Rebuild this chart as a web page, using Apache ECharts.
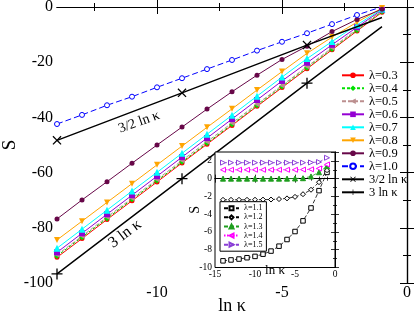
<!DOCTYPE html>
<html>
<head>
<meta charset="utf-8">
<script src="https://cdn.jsdelivr.net/npm/echarts@6/dist/echarts.min.js"></script>
<style>
html,body{margin:0;padding:0;background:#fff;}
#c{width:415px;height:314px;}
</style>
</head>
<body>
<div id="c"></div>
<script>
// ---------- data ----------
const lnKappa = [-14,-13,-12,-11,-10,-9,-8,-7,-6,-5,-4,-3,-2,-1];
const S_l03 = [-90.7,-83.9,-77.0,-70.2,-63.4,-56.5,-49.7,-42.9,-36.0,-29.2,-22.4,-15.5,-8.7,-1.9];
const S_l04 = [-90.2,-83.4,-76.6,-69.7,-62.9,-56.1,-49.3,-42.5,-35.6,-28.8,-22.0,-15.2,-8.4,-1.6];
const S_l05 = [-89.8,-83.0,-76.1,-69.3,-62.5,-55.6,-48.8,-42.0,-35.2,-28.4,-21.6,-14.8,-8.0,-1.3];
const S_l06 = [-88.9,-82.0,-75.1,-68.2,-61.3,-54.4,-47.5,-40.6,-33.7,-26.8,-20.2,-13.7,-7.3,-1.0];
const S_l07 = [-87.4,-80.5,-73.6,-66.7,-59.9,-53.0,-46.1,-39.2,-32.3,-25.4,-18.7,-12.5,-6.5,-0.7];
const S_l08 = [-84.4,-77.6,-70.8,-64.0,-57.2,-50.4,-43.6,-36.9,-30.1,-23.4,-16.8,-10.9,-5.5,-0.4];
const S_l09 = [-76.8,-69.9,-63.3,-56.6,-50.0,-43.5,-37.0,-30.7,-24.7,-19.0,-14.2,-8.9,-4.5,-0.8];
const S_l10 = [-42.4,-39.1,-35.6,-32.5,-29.1,-25.8,-22.5,-19.2,-15.8,-12.6,-9.5,-6.2,-2.9,0.1];
const refX = [-14,-9,-4,-1];
const S_ref32 = [-48.3,-31.1,-13.8,-3.8];
const S_ref3 = [-96.7,-62.2,-27.6,-7.1];

const insetLnKappa = [-14,-13,-12,-11,-10,-9,-8,-7,-6,-5,-4,-3,-2,-1];
const S_l11 = [-9.25,-9.15,-9.05,-8.9,-8.75,-8.5,-8.15,-7.6,-6.85,-5.95,-4.75,-3.3,-1.35,0.7];
const S_l12 = [-2.38,-2.38,-2.38,-2.38,-2.37,-2.36,-2.35,-2.3,-2.22,-2.05,-1.75,-1.25,-0.4,0.95];
const S_l13 = [0,0,0,0,0,0,0,0,0,0.02,0.05,0.25,0.72,1.4];
const S_l14 = [1.0,1.0,1.0,1.0,1.0,1.0,1.0,1.0,1.0,1.0,1.02,1.05,1.15,1.6];
const S_l15 = [1.8,1.8,1.8,1.8,1.8,1.8,1.8,1.8,1.8,1.8,1.8,1.82,1.87,2.35];

const mainXMajor = [-10,-5,0];
const mainXMinor = [-12.5,-7.5,-2.5];
const annotations = [
  {text:'3/2 ln κ', x:-10.72, y:-41.7, angle:20, size:14},
  {text:'3 ln κ', x:-11.28, y:-82.2, angle:37, size:16}
];

// ---------- chart ----------
const FONT = "'Liberation Serif','Times New Roman',serif";
const chart = echarts.init(document.getElementById('c'), null, {renderer:'canvas', width:415, height:314});

const TRI_DOWN = 'path://M0,0L10,0L5,10Z';
const TRI_LEFT = 'path://M0,5L10,0L10,10Z';
const TRI_RIGHT = 'path://M10,5L0,0L0,10Z';
const XMARK = 'path://M0,1L1,0L5,4L9,0L10,1L6,5L10,9L9,10L5,6L1,10L0,9L4,5Z';
const PLUS = 'path://M4.4,0H5.6V4.4H10V5.6H5.6V10H4.4V5.6H0V4.4H4.4Z';

function pairs(xs, ys){ return xs.map((x,i)=>[x, ys[i]]); }

function mainSeries(name, ys, color, symbol, size, dash, fill){
  return {
    name, type:'line', xAxisIndex:0, yAxisIndex:0, z:2,
    data: pairs(lnKappa, ys),
    symbol, symbolSize:size, showSymbol:true,
    lineStyle:{color, width:1, type: dash || 'solid'},
    itemStyle:{color: fill || color, borderColor: color, borderWidth: fill ? 1 : 0},
    emphasis:{disabled:true}, silent:true
  };
}
function insetSeries(name, ys, color, symbol, size, dash, fill){
  return {
    name, type:'line', xAxisIndex:4, yAxisIndex:2, z:7,
    data: pairs(insetLnKappa, ys),
    symbol, symbolSize:size, showSymbol:true,
    lineStyle:{color, width:0.8, type: dash || 'solid'},
    itemStyle:{color: fill || color, borderColor: color, borderWidth: 1},
    emphasis:{disabled:true}, silent:true
  };
}
function refSeries(name, ys, symbol, size){
  return {
    name, type:'line', xAxisIndex:0, yAxisIndex:0, z:3,
    data: pairs(refX, ys).map((p,i)=> i===refX.length-1 ? {value:p, symbol:'none'} : {value:p}),
    symbol, symbolSize:size, showSymbol:true,
    lineStyle:{color:'#000', width:1.4},
    itemStyle:{color:'#000'},
    emphasis:{disabled:true}, silent:true
  };
}

const axisLineStyle = {lineStyle:{color:'#000', width:1.2}};
const labelBase = {color:'#000', fontFamily:FONT};

const series = [
  mainSeries('λ=0.3', S_l03, '#ff0000', 'circle', 5),
  mainSeries('λ=0.4', S_l04, '#00e000', 'diamond', 6, [3,2]),
  mainSeries('λ=0.5', S_l05, '#bc8f8f', TRI_LEFT, 6, [4,2]),
  mainSeries('λ=0.6', S_l06, '#9400d3', 'rect', 6),
  mainSeries('λ=0.7', S_l07, '#00ffff', 'triangle', 7),
  mainSeries('λ=0.8', S_l08, '#ffa500', TRI_DOWN, 6),
  mainSeries('λ=0.9', S_l09, '#670748', 'circle', 5),
  mainSeries('λ=1.0', S_l10, '#0000ff', 'circle', 5, [6,3], '#ffffff'),
  refSeries('3/2 ln κ', S_ref32, XMARK, 9),
  refSeries('3 ln κ', S_ref3, PLUS, 11),
  insetSeries('λ=1.1', S_l11, '#000000', 'rect', 4.5, [4,2], '#ffffff'),
  insetSeries('λ=1.2', S_l12, '#000000', 'diamond', 5, [4,2], '#ffffff'),
  insetSeries('λ=1.3', S_l13, '#1e9e1e', 'triangle', 5, [4,2]),
  insetSeries('λ=1.4', S_l14, '#ff00ff', TRI_LEFT, 5, [1.5,1.5], '#ffffff'),
  insetSeries('λ=1.5', S_l15, '#8a3fd6', TRI_RIGHT, 5, [4,2], '#ffffff')
];

const option = {
  animation:false,
  backgroundColor:'#fff',
  grid:[
    {left:57, top:7, width:350, height:276, z:0, outerBoundsMode:'none', containLabel:false},
    {left:215, top:152, width:120, height:115.5, show:true, backgroundColor:'#fff',
     borderWidth:1, borderColor:'#000', z:5, outerBoundsMode:'none', containLabel:false}
  ],
  legend:[
    {
      data:['λ=0.3','λ=0.4','λ=0.5','λ=0.6','λ=0.7','λ=0.8','λ=0.9','λ=1.0','3/2 ln κ','3 ln κ'],
      orient:'vertical', left:341, top:68.8, itemWidth:22, itemHeight:7, itemGap:0, padding:0,
      selectedMode:false,
      textStyle:{fontFamily:FONT, fontSize:12.5, color:'#000', lineHeight:12.4},
      z:10
    },
    {
      data:['λ=1.1','λ=1.2','λ=1.3','λ=1.4','λ=1.5'],
      orient:'vertical', left:220, top:201.7, itemWidth:15, itemHeight:5, itemGap:0,
      padding:[2,4,2,3], borderColor:'#000', borderWidth:1, backgroundColor:'#fff',
      selectedMode:false,
      textStyle:{fontFamily:FONT, fontSize:8, color:'#000', lineHeight:9.1},
      z:10
    }
  ],
  xAxis:[
    {gridIndex:0, type:'value', min:-14, max:0, position:'bottom',
     axisLine:axisLineStyle, splitLine:{show:false},
     axisTick:{inside:true, length:7, lineStyle:{color:'#000', width:1}, customValues:mainXMajor},
     axisLabel:Object.assign({fontSize:16, margin:2, customValues:mainXMajor}, labelBase),
     name:'ln κ', nameLocation:'middle', nameGap:14, nameMoveOverlap:false,
     nameTextStyle:{fontFamily:FONT, fontSize:18, color:'#000'}},
    {gridIndex:0, type:'value', min:-14, max:0, position:'bottom',
     axisLine:{show:false}, splitLine:{show:false},
     axisTick:{inside:true, length:4, lineStyle:{color:'#000', width:1}, customValues:mainXMinor},
     axisLabel:{show:false}},
    {gridIndex:0, type:'value', min:-14, max:0, position:'top',
     axisLine:axisLineStyle, splitLine:{show:false},
     axisTick:{inside:true, length:7, lineStyle:{color:'#000', width:1}, customValues:mainXMajor},
     axisLabel:{show:false}},
    {gridIndex:0, type:'value', min:-14, max:0, position:'top',
     axisLine:{show:false}, splitLine:{show:false},
     axisTick:{inside:true, length:4, lineStyle:{color:'#000', width:1}, customValues:mainXMinor},
     axisLabel:{show:false}},
    {gridIndex:1, type:'value', min:-15, max:0, interval:5, position:'bottom', z:6,
     axisLine:{lineStyle:{color:'#000', width:1}}, splitLine:{show:false},
     axisTick:{inside:true, length:4, lineStyle:{color:'#000', width:0.8}},
     minorTick:{show:true, splitNumber:5, length:2, lineStyle:{color:'#000', width:0.8}},
     axisLabel:Object.assign({fontSize:9.5, margin:2}, labelBase),
     name:'ln κ', nameLocation:'middle', nameGap:-3, nameMoveOverlap:false,
     nameTextStyle:{fontFamily:FONT, fontSize:13, color:'#000'}},
    {gridIndex:1, type:'value', min:-15, max:0, interval:5, position:'top', z:6,
     axisLine:{lineStyle:{color:'#000', width:1}}, splitLine:{show:false},
     axisTick:{inside:true, length:4, lineStyle:{color:'#000', width:0.8}},
     minorTick:{show:true, splitNumber:5, length:2, lineStyle:{color:'#000', width:0.8}},
     axisLabel:{show:false}}
  ],
  yAxis:[
    {gridIndex:0, type:'value', min:-100, max:0, interval:20, position:'left',
     axisLine:axisLineStyle, splitLine:{show:false},
     axisTick:{inside:true, length:7, lineStyle:{color:'#000', width:1}},
     minorTick:{show:true, splitNumber:2, length:4, lineStyle:{color:'#000', width:1}},
     axisLabel:Object.assign({fontSize:16, margin:4}, labelBase),
     name:'S', nameLocation:'middle', nameGap:37, nameRotate:90, nameMoveOverlap:false,
     nameTextStyle:{fontFamily:FONT, fontSize:19, color:'#000'}},
    {gridIndex:0, type:'value', min:-100, max:0, interval:20, position:'right',
     axisLine:axisLineStyle, splitLine:{show:false},
     axisTick:{inside:true, length:7, lineStyle:{color:'#000', width:1}},
     minorTick:{show:true, splitNumber:2, length:4, lineStyle:{color:'#000', width:1}},
     axisLabel:{show:false}},
    {gridIndex:1, type:'value', min:-10, max:3, interval:2, position:'left', z:6,
     axisLine:{lineStyle:{color:'#000', width:1}}, splitLine:{show:false},
     axisTick:{inside:true, length:4, lineStyle:{color:'#000', width:0.8}},
     minorTick:{show:true, splitNumber:2, length:2, lineStyle:{color:'#000', width:0.8}},
     axisLabel:Object.assign({fontSize:9.5, margin:3, showMaxLabel:false,
       formatter:v => (v > 2 ? '' : String(v))}, labelBase),
     name:'S', nameLocation:'middle', nameGap:13, nameRotate:90, nameMoveOverlap:false,
     nameTextStyle:{fontFamily:FONT, fontSize:14, color:'#000'}},
    {gridIndex:1, type:'value', min:-10, max:3, interval:2, position:'right', z:6,
     axisLine:{lineStyle:{color:'#000', width:1}}, splitLine:{show:false},
     axisTick:{inside:true, length:4, lineStyle:{color:'#000', width:0.8}},
     minorTick:{show:true, splitNumber:2, length:2, lineStyle:{color:'#000', width:0.8}},
     axisLabel:{show:false}}
  ],
  series
};
chart.setOption(option);

const graphics = annotations.map(a => {
  const p = chart.convertToPixel({xAxisIndex:0, yAxisIndex:0}, [a.x, a.y]);
  return {
    type:'text', x:p[0], y:p[1], rotation:a.angle*Math.PI/180, z:20, silent:true,
    style:{text:a.text, fontFamily:FONT, fontSize:a.size, fill:'#000', align:'center', verticalAlign:'middle'}
  };
});
chart.setOption({graphic:graphics});
</script>
</body>
</html>
